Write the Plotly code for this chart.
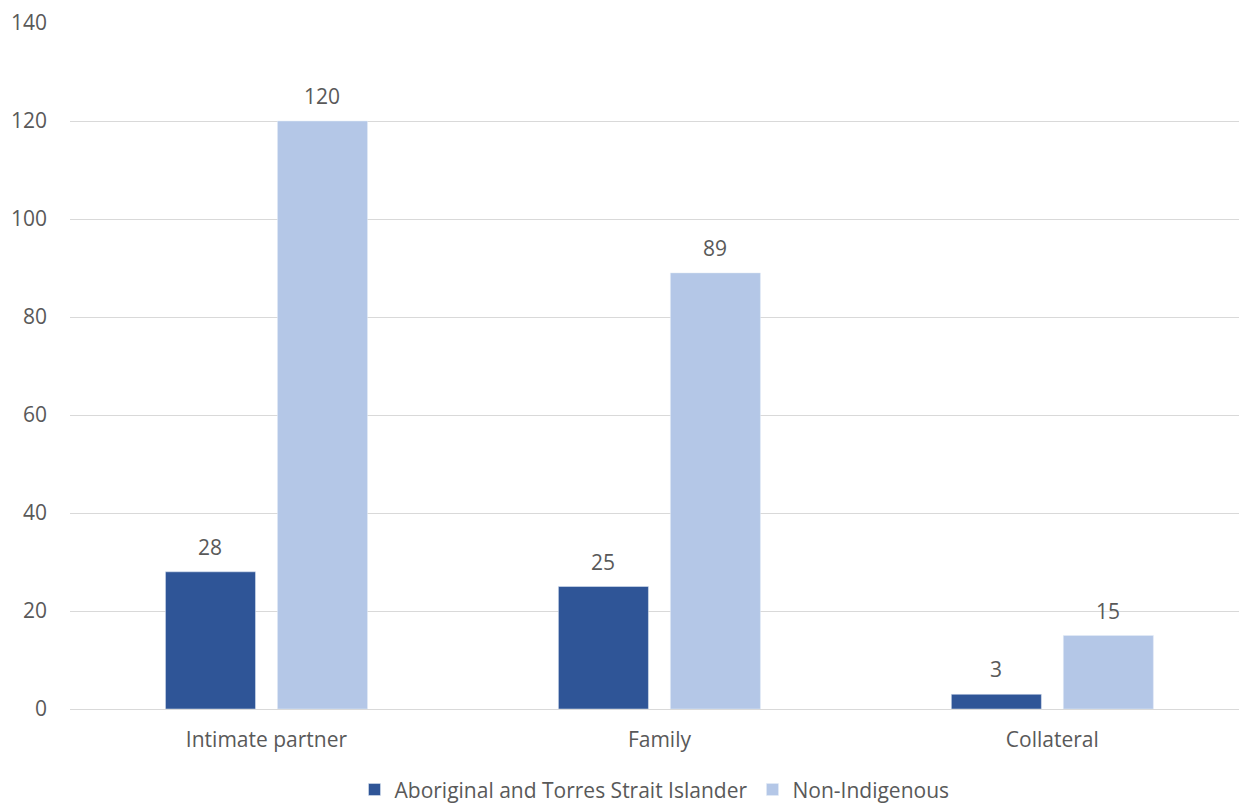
import plotly.graph_objects as go

categories = ["Intimate partner", "Family", "Collateral"]
aboriginal = [28, 25, 3]
non_indigenous = [120, 89, 15]
series_names = ["Aboriginal and Torres Strait Islander", "Non-Indigenous"]
y_ticks = [0, 20, 40, 60, 80, 100, 120, 140]

DARK = "#2F5597"
LIGHT = "#B4C7E7"
TEXT = "#595959"
FONT = "Open Sans"
FS = 21

fig = go.Figure()
fig.add_trace(go.Bar(x=categories, y=aboriginal, name=series_names[0], marker_color=DARK))
fig.add_trace(go.Bar(x=categories, y=non_indigenous, name=series_names[1], marker_color=LIGHT))

# data labels above each bar
for vals, shift in ((aboriginal, -56), (non_indigenous, 56)):
    for c, v in zip(categories, vals):
        fig.add_annotation(x=c, y=v, text=str(v), showarrow=False, xshift=shift, yshift=25,
                           yanchor="middle", font=dict(size=FS, color=TEXT, family=FONT))

fig.update_layout(
    width=1239, height=805,
    margin=dict(l=70, r=0, t=23, b=96, autoexpand=False),
    plot_bgcolor="white", paper_bgcolor="white",
    barmode="group", bargap=0.43, bargroupgap=0.196,
    font=dict(family=FONT, size=FS, color=TEXT),
    showlegend=True,
    legend=dict(orientation="h", x=0.5, xanchor="center", y=-0.088, yanchor="top",
                font=dict(size=FS, color=TEXT, family=FONT), itemwidth=30,
                traceorder="normal"),
)
fig.update_xaxes(range=[-0.5, 2.475], showgrid=False, showline=False, ticks="outside",
                 ticklen=12, tickcolor="rgba(0,0,0,0)", tickfont=dict(size=FS, color=TEXT, family=FONT),
                 fixedrange=True)
fig.update_yaxes(range=[0, 140], tickvals=y_ticks, showgrid=True, gridcolor="#D9D9D9", gridwidth=1,
                 zeroline=True, zerolinecolor="#D9D9D9", zerolinewidth=1, showline=False,
                 ticklabelstandoff=22, tickfont=dict(size=FS, color=TEXT, family=FONT))

fig.write_html("out.html")
